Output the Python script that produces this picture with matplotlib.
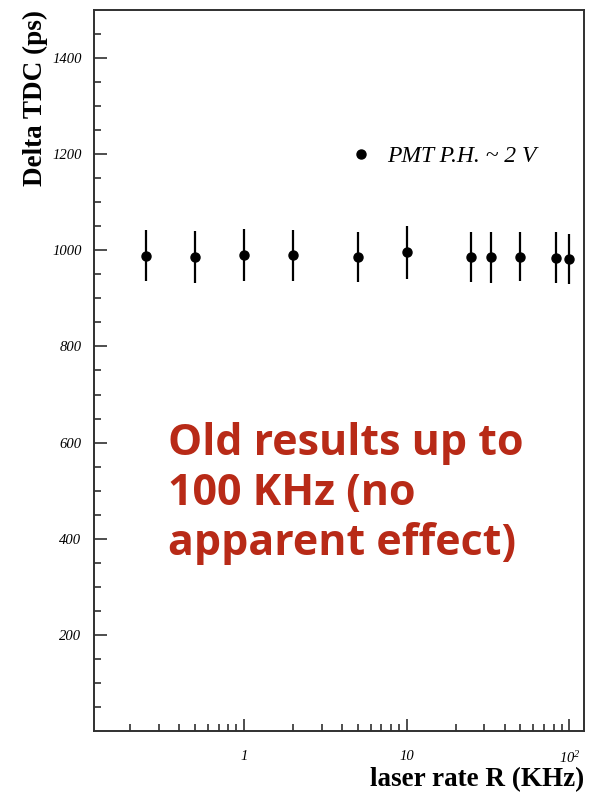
import numpy as np
import matplotlib.pyplot as plt
from matplotlib.ticker import FixedLocator, NullFormatter
from matplotlib.lines import Line2D

plt.rcParams['mathtext.fontset'] = 'custom'
plt.rcParams['mathtext.rm'] = 'Liberation Serif:italic'
plt.rcParams['mathtext.it'] = 'Liberation Serif:italic'

# laser rate scan, PMT pulse height ~2 V
rate_khz = [0.25, 0.5, 1, 2, 5, 10, 25, 33, 50, 83, 100]
delta_tdc = [989, 987, 991, 990, 987, 996, 987, 986, 987, 985, 981]
delta_err = [53, 54, 54, 53, 52, 55, 52, 53, 51, 53, 52]

y_major = [200, 400, 600, 800, 1000, 1200, 1400]
x_major = [1, 10, 100]
x_labels = ['1', '10', '$10^{2}$']

fig = plt.figure(figsize=(5.89, 7.93), dpi=100)
ax = fig.add_axes([0.1596, 0.0782, 0.8319, 0.9092])

ax.errorbar(rate_khz, delta_tdc, yerr=delta_err, fmt='o', color='black',
            ms=6.5, elinewidth=1.6, capsize=0)

ax.set_xscale('log')
ax.set_xlim(0.12, 123)
ax.set_ylim(0, 1500)

ax.yaxis.set_major_locator(FixedLocator(y_major))
ax.yaxis.set_minor_locator(FixedLocator([v for v in range(50, 1500, 50) if v not in y_major]))
ax.xaxis.set_major_locator(FixedLocator(x_major))
ax.set_xticklabels(x_labels)
ax.xaxis.set_minor_formatter(NullFormatter())

for s in ax.spines.values():
    s.set_linewidth(1.4)
    s.set_color('#303030')

ax.tick_params(which='both', direction='in', top=False, right=False, color='#303030', width=1.2)
ax.tick_params(which='major', length=9)
ax.tick_params(which='minor', length=5)
ax.tick_params(axis='y', pad=9)
ax.tick_params(axis='x', pad=14)
for lab in ax.get_yticklabels() + ax.get_xticklabels():
    lab.set_family('Liberation Serif')
    lab.set_style('italic')
    lab.set_fontsize(10.5)

ax.set_ylabel('Delta TDC (ps)', family='Liberation Serif', weight='bold', fontsize=19.5)
ax.yaxis.set_label_coords(-0.094, 1.0)
ax.yaxis.label.set_ha('right')
ax.set_xlabel('laser rate R (KHz)', family='Liberation Serif', weight='bold', fontsize=19.5)
ax.xaxis.set_label_coords(1.0, -0.05)
ax.xaxis.label.set_ha('right')

handle = Line2D([], [], ls='none', marker='o', color='black', ms=6.5)
ax.legend([handle], ['PMT P.H. ~ 2 V'], loc='center left', bbox_to_anchor=(0.478, 0.797),
          frameon=False, handlelength=1.0, handletextpad=0.6,
          prop={'family': 'Liberation Serif', 'style': 'italic', 'size': 17})

ax.text(0.151, 0.428, 'Old results up to\n100 KHz (no\napparent effect)',
        transform=ax.transAxes, color='#B82A17', family='Open Sans', weight='bold',
        fontsize=31, va='top', ha='left', linespacing=1.2)

fig.savefig('out.png', dpi=100)
